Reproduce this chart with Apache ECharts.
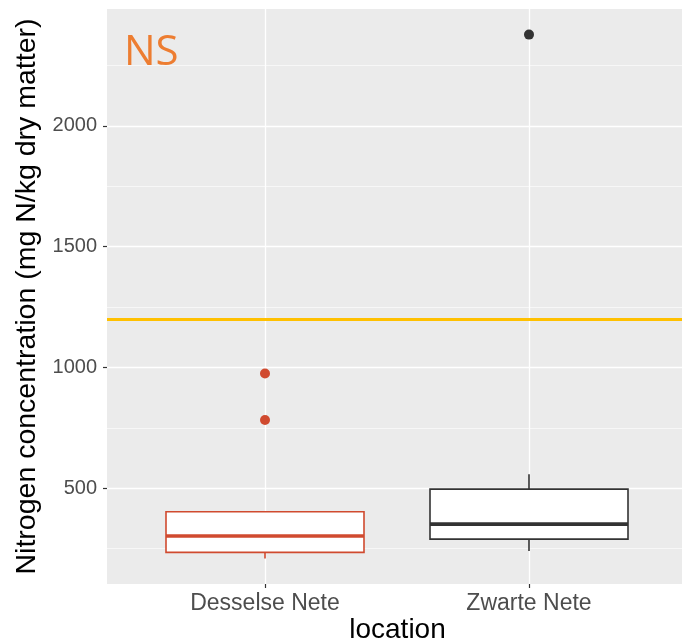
<!DOCTYPE html>
<html>
<head>
<meta charset="utf-8">
<script src="https://cdn.jsdelivr.net/npm/echarts@6/dist/echarts.min.js"></script>
<style>
  html, body { margin: 0; padding: 0; background: #ffffff; }
  #chart { width: 682px; height: 644px; }
</style>
</head>
<body>
<div id="chart"></div>
<script>
// Sampling locations along the x axis
const locations = ['Desselse Nete', 'Zwarte Nete'];
// Box summaries per location (mg N/kg dry matter)
const lowerWhisker = [209, 240];
const q1 = [234, 289];
const median = [302, 351];
const q3 = [402, 496];
const upperWhisker = [402, 557];
// Outlying samples
const outlierLocation = ['Desselse Nete', 'Desselse Nete', 'Zwarte Nete'];
const outlierValue = [975, 782, 2378];
// Reference threshold
const threshold = 1200;
// Labelled y ticks
const yTicks = [500, 1000, 1500, 2000];

const boxColors = ['#D04A2F', '#333333'];
const yMin = 103, yMax = 2484;
const fontFamily = "'Liberation Sans', Arial, sans-serif";

const boxData = locations.map((_, i) => [i, lowerWhisker[i], q1[i], median[i], q3[i], upperWhisker[i]]);
const outlierData = outlierValue.map((v, i) => [outlierLocation[i], v]);

const chart = echarts.init(document.getElementById('chart'), null, { renderer: 'canvas' });

chart.setOption({
  animation: false,
  backgroundColor: '#ffffff',
  grid: [
    // full panel: grey background, horizontal grid
    { left: 107, top: 9, width: 581, height: 575, backgroundColor: '#EBEBEB', show: true, borderWidth: 0, outerBoundsMode: 'none' },
    // category positions
    { left: 265, top: 9, width: 264, height: 575, outerBoundsMode: 'none' }
  ],
  xAxis: [
    {
      gridIndex: 0, type: 'value', min: 0.4, max: 2.6,
      axisLine: { show: false }, axisTick: { show: false }, axisLabel: { show: false }, splitLine: { show: false },
      name: 'location', nameLocation: 'middle', nameGap: 32,
      nameTextStyle: { fontFamily, fontSize: 28, color: '#000000' }
    },
    {
      gridIndex: 1, type: 'category', data: locations, boundaryGap: false,
      axisLine: { show: false },
      axisTick: { show: true, length: 4, lineStyle: { color: '#333333', width: 1.2 }, interval: 0 },
      axisLabel: { show: true, interval: 0, margin: 8, fontFamily, fontSize: 23, color: '#4D4D4D' },
      splitLine: { show: true, interval: 0, lineStyle: { color: '#FFFFFF', width: 1.3 } }
    }
  ],
  yAxis: [
    {
      gridIndex: 0, type: 'value', min: yMin, max: yMax, splitNumber: 5,
      axisLine: { show: false },
      axisTick: { show: true, length: 4, customValues: yTicks, lineStyle: { color: '#333333', width: 1.2 } },
      axisLabel: {
        show: true, customValues: yTicks, margin: 10, fontFamily, fontSize: 20, color: '#4D4D4D',
        formatter: (v) => String(v)
      },
      splitLine: { show: true, lineStyle: { color: '#FFFFFF', width: 1.3 } },
      minorTick: { show: false, splitNumber: 2 },
      minorSplitLine: { show: true, lineStyle: { color: '#FFFFFF', width: 0.6 } },
      name: 'Nitrogen concentration (mg N/kg dry matter)', nameLocation: 'middle', nameGap: 56,
      nameTextStyle: { fontFamily, fontSize: 28.5, color: '#000000' }
    },
    {
      gridIndex: 1, type: 'value', min: yMin, max: yMax, show: false
    }
  ],
  graphic: [
    {
      type: 'text', left: 124, top: 32, z: 10,
      style: { text: 'NS', fontFamily: "'Open Sans', sans-serif", fontSize: 42, fill: '#ED7D31' }
    }
  ],
  series: [
    {
      type: 'line', xAxisIndex: 0, yAxisIndex: 0, data: [], silent: true,
      markLine: {
        silent: true, symbol: 'none', label: { show: false },
        lineStyle: { color: '#FFC000', width: 3, type: 'solid' },
        data: [{ yAxis: threshold }]
      }
    },
    {
      type: 'custom', xAxisIndex: 1, yAxisIndex: 1, data: boxData,
      encode: { x: 0, y: [1, 2, 3, 4, 5] },
      renderItem(params, api) {
        const i = api.value(0);
        const step = api.coord([1, yMin])[0] - api.coord([0, yMin])[0];
        const half = Math.abs(step) * 0.375;
        const x = api.coord([i, yMin])[0];
        const yLo = api.coord([i, api.value(1)])[1];
        const yQ1 = api.coord([i, api.value(2)])[1];
        const yMed = api.coord([i, api.value(3)])[1];
        const yQ3 = api.coord([i, api.value(4)])[1];
        const yHi = api.coord([i, api.value(5)])[1];
        const color = boxColors[params.dataIndex];
        return {
          type: 'group',
          children: [
            { type: 'line', shape: { x1: x, y1: yLo, x2: x, y2: yQ1 }, style: { stroke: color, lineWidth: 1.6 } },
            { type: 'line', shape: { x1: x, y1: yQ3, x2: x, y2: yHi }, style: { stroke: color, lineWidth: 1.6 } },
            { type: 'rect', shape: { x: x - half, y: yQ3, width: 2 * half, height: yQ1 - yQ3 }, style: { fill: '#FFFFFF', stroke: color, lineWidth: 1.6 } },
            { type: 'line', shape: { x1: x - half, y1: yMed, x2: x + half, y2: yMed }, style: { stroke: color, lineWidth: 3.6 } }
          ]
        };
      }
    },
    {
      type: 'scatter', xAxisIndex: 1, yAxisIndex: 1, data: outlierData,
      symbol: 'circle', symbolSize: 10,
      itemStyle: { color: (p) => boxColors[locations.indexOf(p.data[0])], opacity: 1 }
    }
  ]
});
</script>
</body>
</html>
